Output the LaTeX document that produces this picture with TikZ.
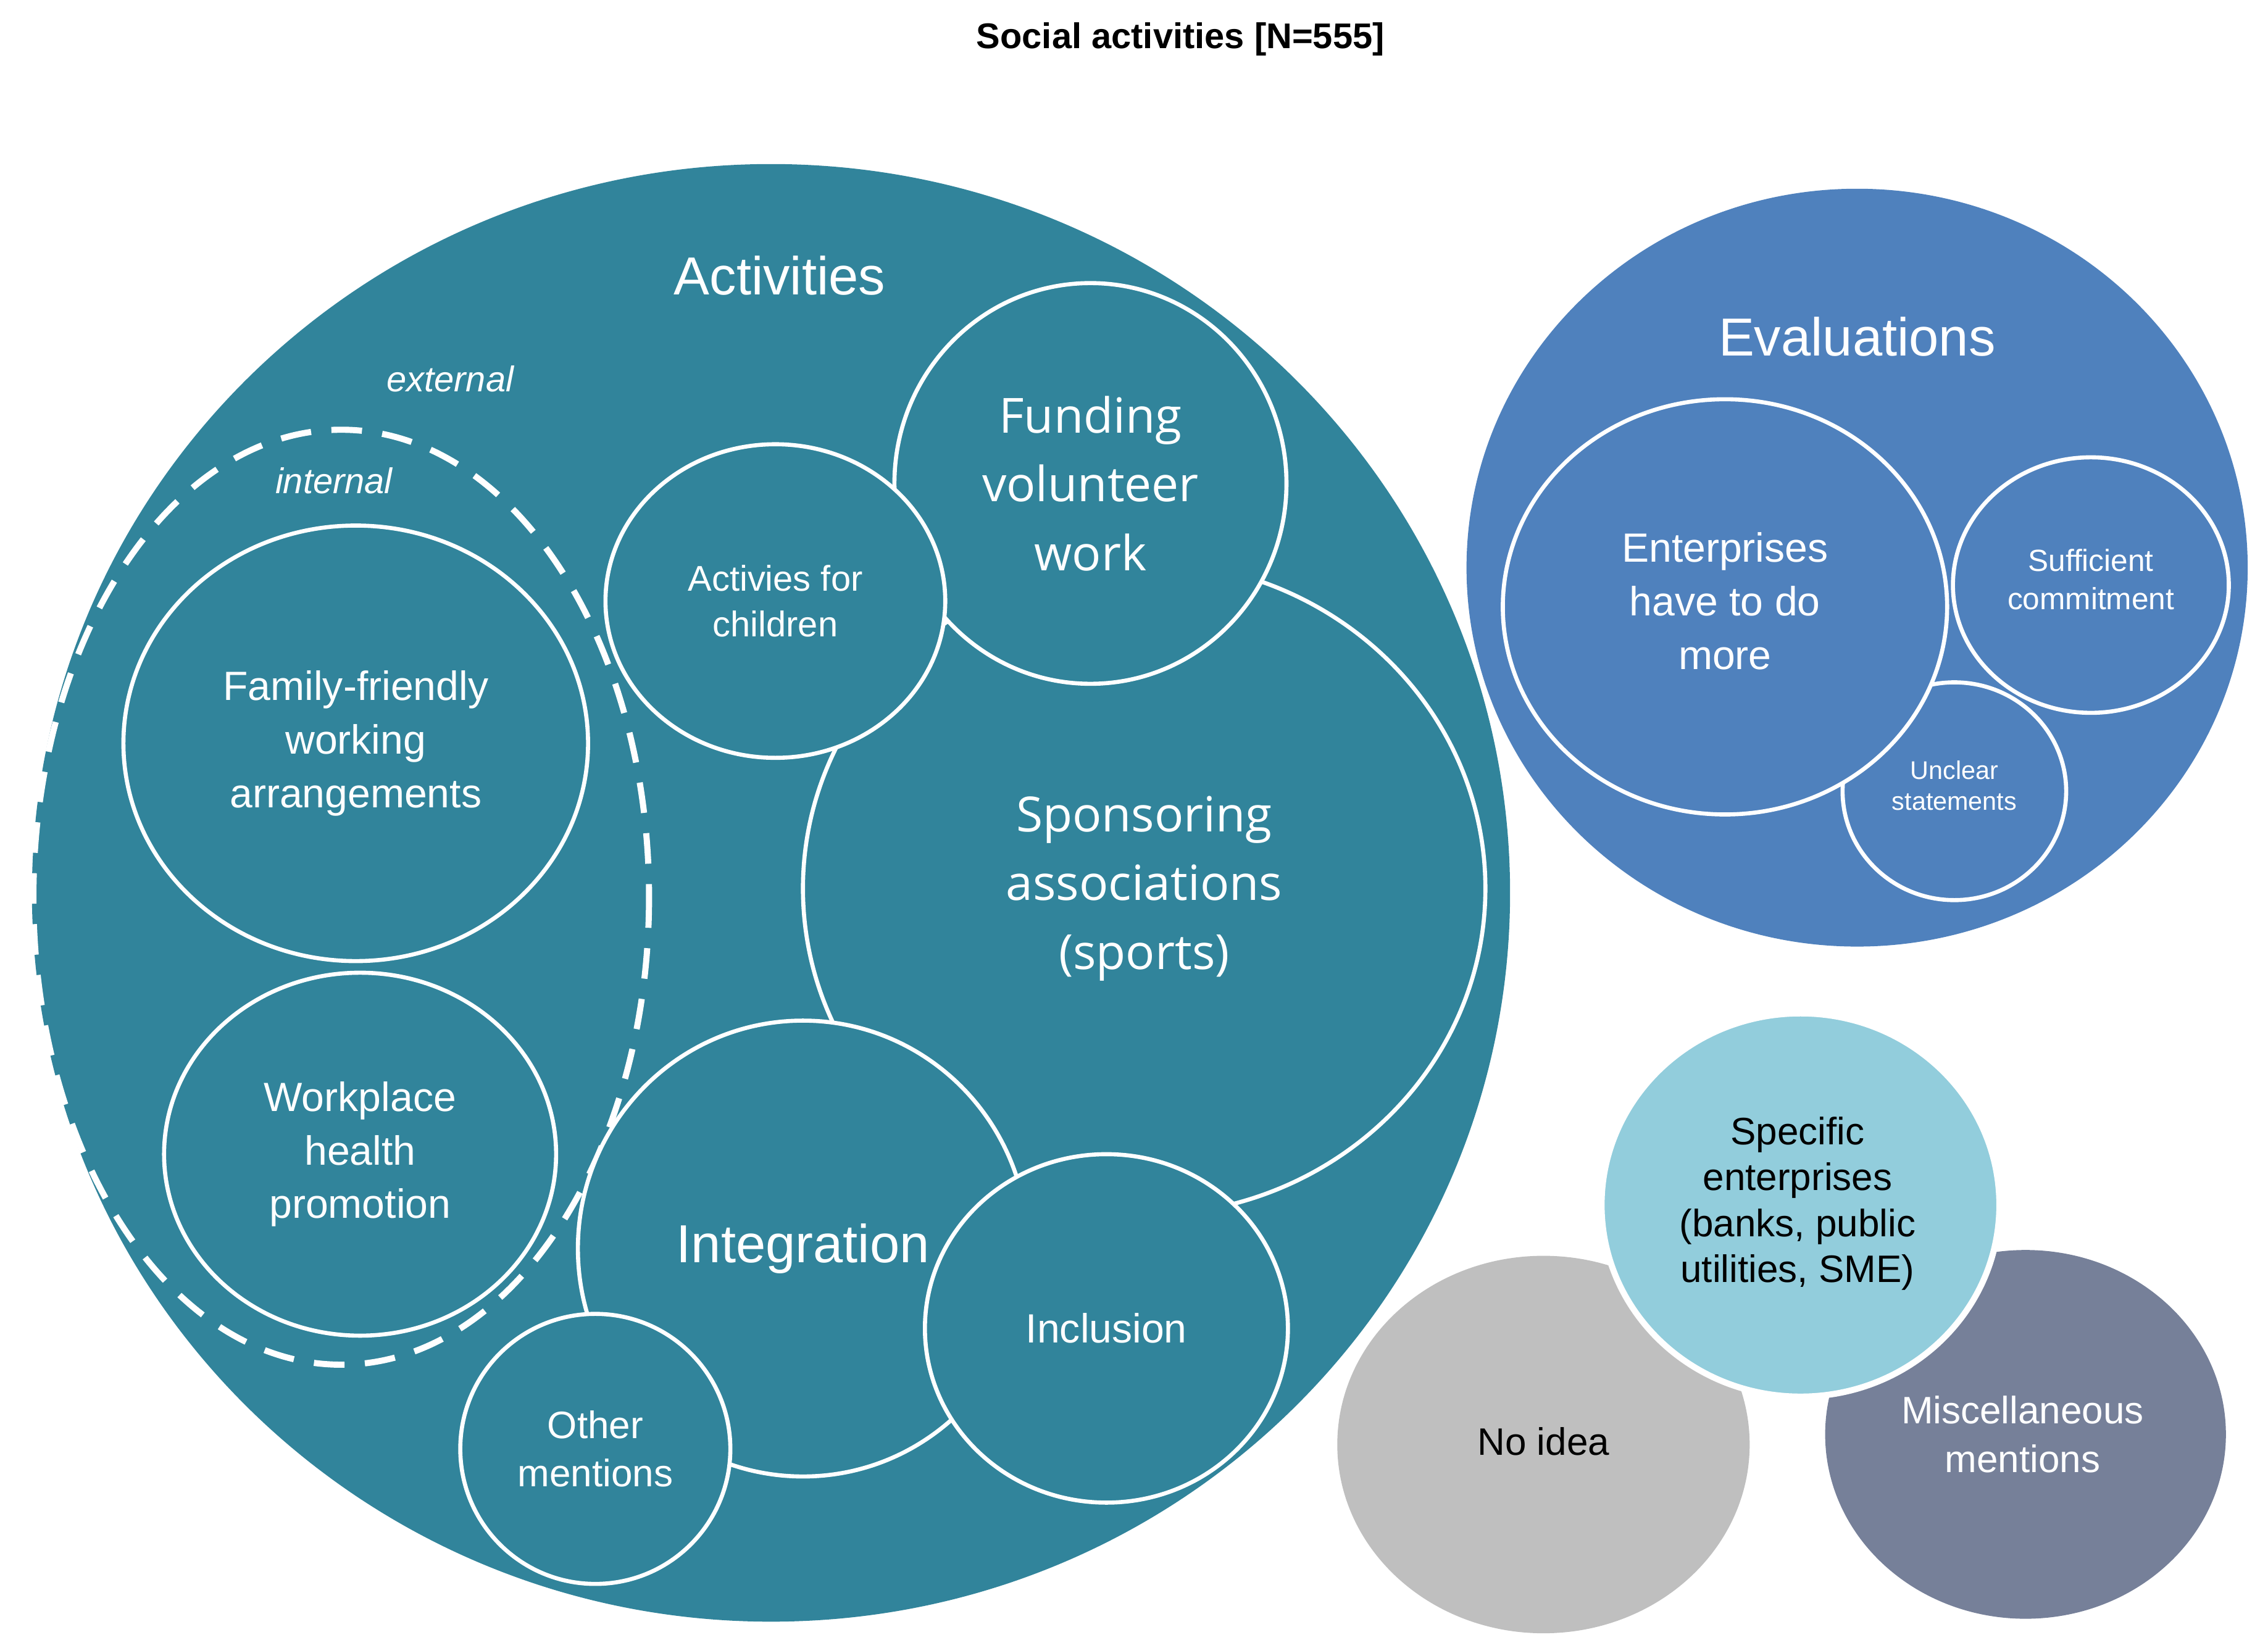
\documentclass[tikz,border=0pt]{standalone}
\usepackage{fontspec}
\setmainfont{Liberation Sans}
\newfontfamily\osans{Open Sans}
\definecolor{teal}{HTML}{31849B}
\definecolor{evb}{HTML}{4F81BD}
\definecolor{nog}{HTML}{BFBFBF}
\definecolor{misc}{HTML}{768099}
\definecolor{spec}{HTML}{92CDDC}
\begin{document}
\begin{tikzpicture}[x=0.02cm,y=-0.02cm,
  bub/.style={draw=white,line width=1.6pt},
  lbl/.style={text=white,align=center,font=\fontsize{16}{21}\selectfont},
  sm/.style={text=white,align=center,font=\fontsize{13}{17}\selectfont}]
\useasboundingbox (0,0) rectangle (1562,1135);
\node (title) at (813,27) {\fontsize{14}{16}\selectfont\bfseries Social activities [N=555]};
% Activities
\fill[teal] (531,615) coordinate (ac) ellipse [x radius=509, y radius=502];
\node[text=white,font=\fontsize{21}{24}\selectfont] (act) at (537,190) {Activities};
\node[text=white,font=\itshape\fontsize{14}{16}\selectfont] (ext) at (310,261) {external};
\node[text=white,font=\itshape\fontsize{14}{16}\selectfont] (int) at (230,331) {internal};
\draw[white,line width=2.4pt,dash pattern=on 12pt off 8pt] (235,618) coordinate (dc) ellipse [x radius=212, y radius=322];
\draw[bub,fill=teal] (245,512) ellipse [x radius=160, y radius=150];
\node[lbl] (ff) at (245,512) {Family-friendly\\working\\arrangements};
\draw[bub,fill=teal] (248,795) ellipse [x radius=135, y radius=125];
\node[lbl] (wp) at (248,795) {Workplace\\health\\promotion};
\draw[bub,fill=teal] (788,612) ellipse [x radius=235, y radius=225];
\node[lbl,font=\osans\fontsize{19}{27}\selectfont] (sp) at (788,612) {Sponsoring\\associations\\(sports)};
\draw[bub,fill=teal] (751,333) ellipse [x radius=135, y radius=138];
\node[lbl,font=\osans\fontsize{19}{27}\selectfont] (fv) at (751,333) {Funding\\volunteer\\work};
\draw[bub,fill=teal] (534,414) ellipse [x radius=117, y radius=108];
\node[sm,font=\fontsize{14}{18}\selectfont] (ch) at (534,414) {Activies for\\children};
\draw[bub,fill=teal] (553,860) ellipse [x radius=155, y radius=157];
\node[text=white,font=\fontsize{21}{24}\selectfont] (ig) at (553,860) {Integration};
\draw[bub,fill=teal] (762,915) ellipse [x radius=125, y radius=120];
\node[lbl] (inc) at (762,915) {Inclusion};
\draw[bub,fill=teal] (410,998) ellipse [x radius=93, y radius=93];
\node[lbl,font=\fontsize{15}{19}\selectfont] (om) at (410,998) {Other\\mentions};
% Evaluations
\fill[evb] (1279,391) ellipse [x radius=269, y radius=261];
\node[text=white,font=\fontsize{21}{24}\selectfont] (ev) at (1279,232) {Evaluations};
\draw[bub,fill=evb] (1346,545) ellipse [x radius=77, y radius=75];
\node[sm,font=\fontsize{10}{12}\selectfont] (uc) at (1346,541) {Unclear\\statements};
\draw[bub,fill=evb] (1440,403) ellipse [x radius=95, y radius=88];
\node[sm,font=\fontsize{12}{15}\selectfont] (sc) at (1440,399) {Sufficient\\commitment};
\draw[bub,fill=evb] (1188,418) ellipse [x radius=153, y radius=143];
\node[lbl] (ed) at (1188,414) {Enterprises\\have to do\\more};
% others
\fill[nog] (1063,995) ellipse [x radius=142, y radius=130];
\node[font=\fontsize{15}{18}\selectfont] (ni) at (1063,993) {No idea};
\fill[misc] (1395,988) ellipse [x radius=138, y radius=127];
\node[lbl,font=\fontsize{15}{19}\selectfont] (mm) at (1393,988) {Miscellaneous\\mentions};
\draw[bub,fill=spec,line width=2.4pt] (1240,830) ellipse [x radius=137, y radius=132];
\node[align=center,font=\fontsize{15}{18}\selectfont] (se) at (1238,829) {Specific\\enterprises\\(banks, public\\utilities, SME)};
\end{tikzpicture}
\end{document}
